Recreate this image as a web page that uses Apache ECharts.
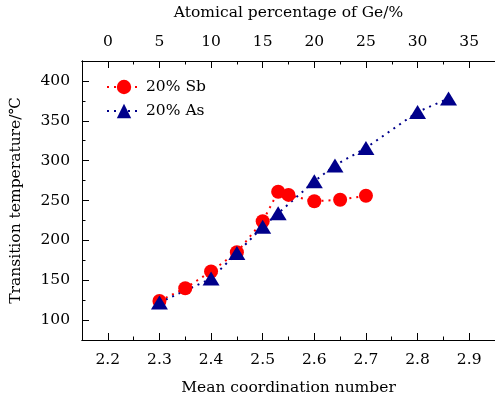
<!DOCTYPE html>
<html>
<head>
<meta charset="utf-8">
<script src="https://cdn.jsdelivr.net/npm/echarts@6/dist/echarts.min.js"></script>
<style>html,body{margin:0;padding:0;background:#fff;}#c{width:495px;height:401px;}</style>
</head>
<body>
<div id="c"></div>
<script>
var mcnSb  = [2.30, 2.35, 2.40, 2.45, 2.50, 2.53, 2.55, 2.60, 2.65, 2.70];
var tempSb = [124, 140, 161, 185, 224, 261, 257, 249, 251, 256];
var mcnAs  = [2.30, 2.40, 2.45, 2.50, 2.53, 2.60, 2.64, 2.70, 2.80, 2.86];
var tempAs = [122, 152, 184, 217, 234, 274, 294, 316, 361, 378];
var xTicks = [2.2, 2.3, 2.4, 2.5, 2.6, 2.7, 2.8, 2.9];
var xMinor = [2.25, 2.35, 2.45, 2.55, 2.65, 2.75, 2.85];
var yTicks = [100, 150, 200, 250, 300, 350, 400];
var yMinor = [125, 175, 225, 275, 325, 375];
var topTicks = [0, 5, 10, 15, 20, 25, 30, 35];
var topMinor = [2.5, 7.5, 12.5, 17.5, 22.5, 27.5, 32.5];

var FONT = 'DejaVu Serif';
var FS = 15.5;
function pairs(xs, ys){ return xs.map(function(x,i){ return [x, ys[i]]; }); }
var black = {color:'#000', width:1};
var nameStyle = {color:'#000', fontFamily:FONT, fontSize:FS};

function axis(pos, min, max, major, minor, margin, fmt){
  var main = {
    type:'value', position:pos, min:min, max:max,
    axisLine:{show:true, onZero:false, lineStyle:black}, splitLine:{show:false},
    axisTick:{show:true, inside:true, length:7, customValues:major, lineStyle:black},
    axisLabel:{show:true, customValues:major, margin:margin, color:'#000',
               fontFamily:FONT, fontSize:FS, formatter:fmt}
  };
  var sub = {
    type:'value', position:pos, min:min, max:max,
    axisLine:{show:true, onZero:false, lineStyle:black}, splitLine:{show:false}, axisLabel:{show:false},
    axisTick:{show:true, inside:true, length:3.5, customValues:minor, lineStyle:black}
  };
  return [main, sub];
}

var bx = axis('bottom', 2.15, 2.95, xTicks, xMinor, 12, function(v){ return v.toFixed(1); });
var tx = axis('top', -2.5, 37.5, topTicks, topMinor, 11, function(v){ return String(v); });
var ly = axis('left', 75, 425, yTicks, yMinor, 12, function(v){ return String(v); });
Object.assign(bx[0], {name:'Mean coordination number', nameLocation:'middle', nameGap:40, nameTextStyle:nameStyle});
Object.assign(tx[0], {name:'Atomical percentage of Ge/%', nameLocation:'middle', nameGap:40, nameTextStyle:nameStyle});
Object.assign(ly[0], {name:'Transition temperature/℃', nameLocation:'middle', nameGap:58, nameTextStyle:nameStyle});

var chart = echarts.init(document.getElementById('c'));
chart.setOption({
  animation:false,
  backgroundColor:'#fff',
  grid:{left:82, top:56, right:-3, bottom:58, containLabel:false},
  legend:{
    left:101, top:74, orient:'vertical', itemWidth:34, itemHeight:18, itemGap:8,
    textStyle:{color:'#000', fontFamily:FONT, fontSize:FS},
    data:['20% Sb','20% As']
  },
  xAxis:[bx[0], bx[1], tx[0], tx[1]],
  yAxis:[ly[0], ly[1]],
  series:[
    {name:'20% Sb', type:'line', xAxisIndex:0, yAxisIndex:0,
     data:pairs(mcnSb, tempSb), symbol:'circle', symbolSize:14,
     itemStyle:{color:'#ff0000'},
     lineStyle:{color:'#ff0000', width:2, type:[2,5]}},
    {name:'20% As', type:'line', xAxisIndex:0, yAxisIndex:0,
     data:pairs(mcnAs, tempAs), symbol:'triangle', symbolSize:[17,14],
     itemStyle:{color:'#00008b'},
     lineStyle:{color:'#00008b', width:2, type:[2,5]}}
  ]
});
</script>
</body>
</html>
